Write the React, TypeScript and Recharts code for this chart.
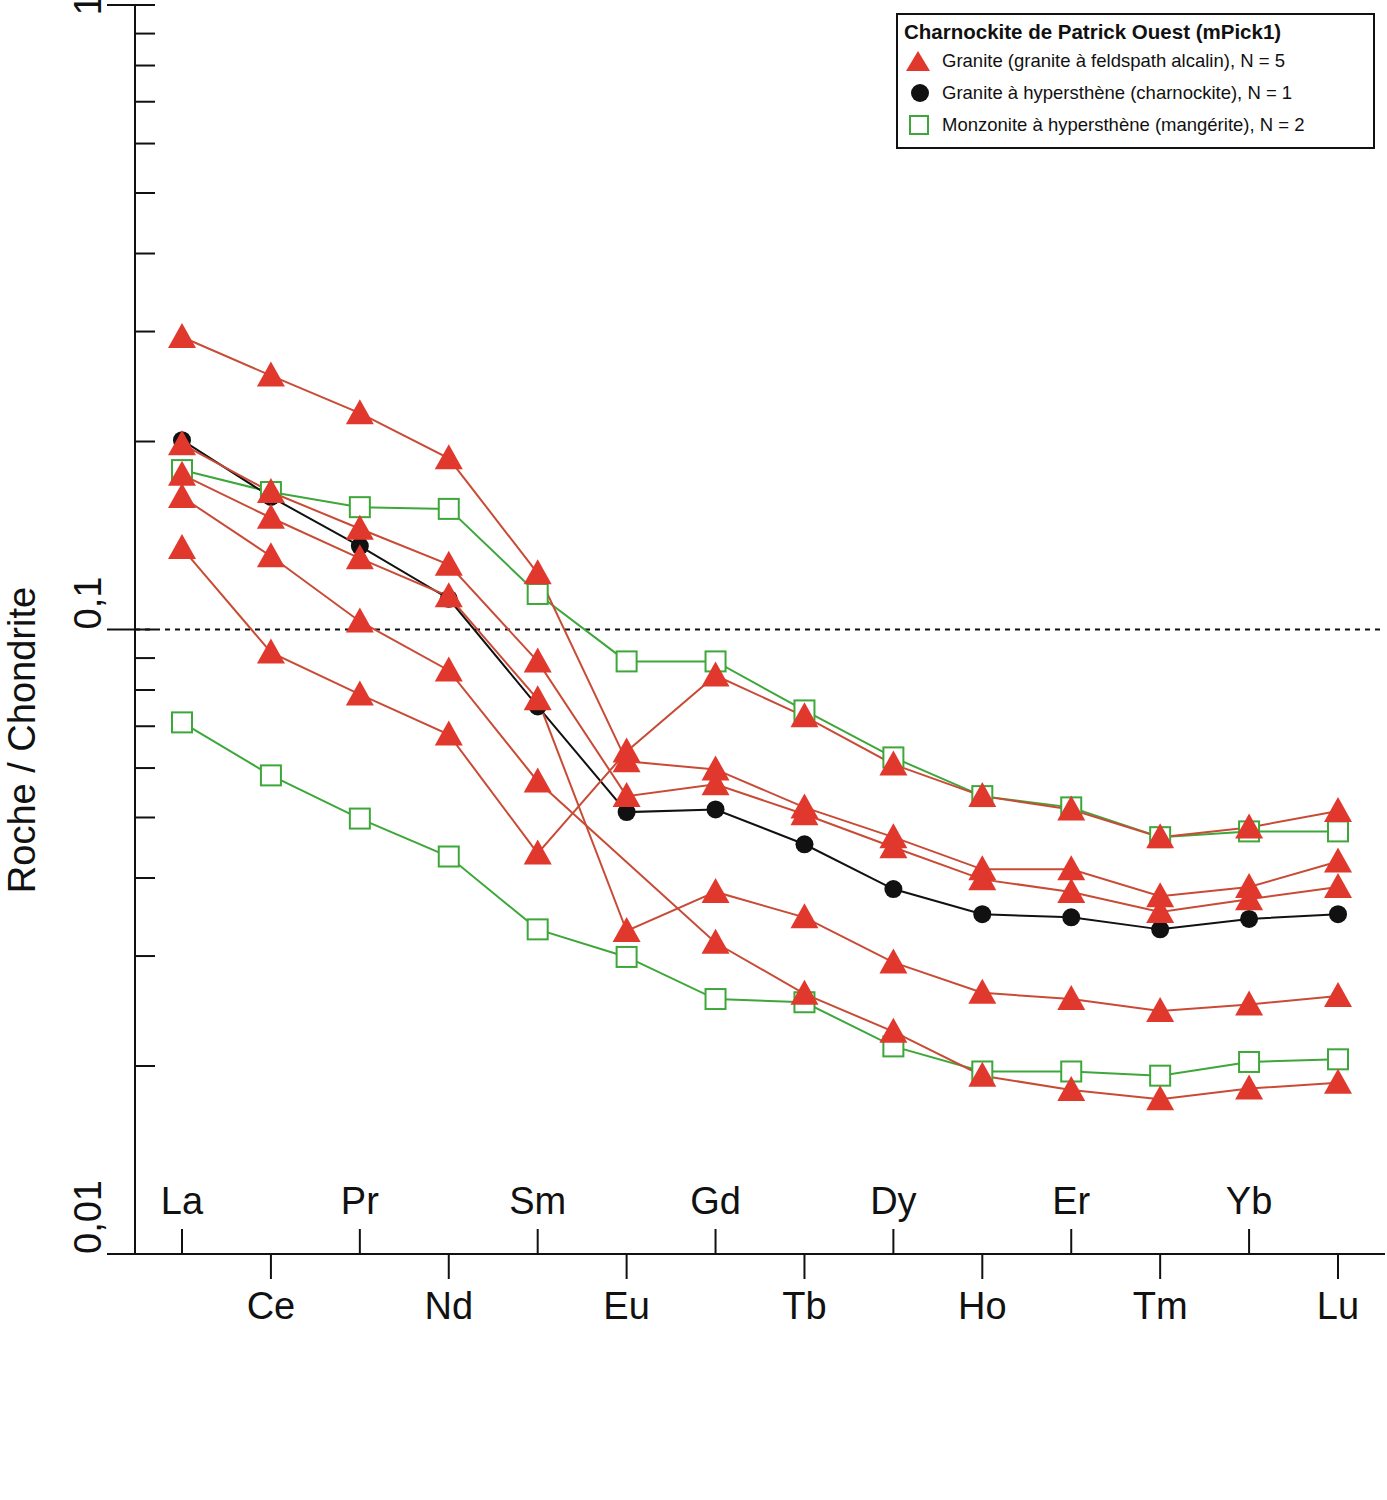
import React from 'react';
import { LineChart, Line, XAxis, YAxis, ReferenceLine } from 'recharts';

const elements = ['La', 'Ce', 'Pr', 'Nd', 'Sm', 'Eu', 'Gd', 'Tb', 'Dy', 'Ho', 'Er', 'Tm', 'Yb', 'Lu'];

// granites (granite à feldspath alcalin)
const granite1 = [0.294, 0.255, 0.222, 0.188, 0.123, 0.0615, 0.0597, 0.0519, 0.0465, 0.0413, 0.0413, 0.0374, 0.0387, 0.0425];
const granite2 = [0.198, 0.166, 0.145, 0.127, 0.0889, 0.0541, 0.0565, 0.0506, 0.0448, 0.0398, 0.038, 0.0353, 0.037, 0.0387];
const granite3 = [0.177, 0.151, 0.130, 0.113, 0.0773, 0.0329, 0.038, 0.0346, 0.0293, 0.0262, 0.0256, 0.0245, 0.0251, 0.0259];
const granite4 = [0.163, 0.131, 0.103, 0.086, 0.0571, null, 0.0315, 0.0261, 0.0227, 0.0193, 0.0183, 0.0177, 0.0184, 0.0188];
const granite5 = [0.135, 0.0919, 0.0787, 0.0679, 0.0438, 0.0638, 0.0844, 0.0726, 0.0608, 0.0541, 0.0515, 0.0465, 0.0482, 0.0512];
// charnockite
const charnockite = [0.201, 0.163, 0.136, 0.112, 0.0753, 0.051, 0.0515, 0.0453, 0.0384, 0.035, 0.0346, 0.0331, 0.0344, 0.035];
// mangérites
const mangerite1 = [0.180, 0.166, 0.157, 0.156, 0.114, 0.0889, 0.0889, 0.0742, 0.0624, 0.0541, 0.0519, 0.0465, 0.0475, 0.0475];
const mangerite2 = [0.071, 0.0584, 0.0498, 0.0433, 0.0331, 0.0299, 0.0256, 0.0253, 0.0215, 0.0196, 0.0196, 0.0193, 0.0203, 0.0205];

const yTicks = [0.01, 0.02, 0.03, 0.04, 0.05, 0.06, 0.07, 0.08, 0.09, 0.1, 0.2, 0.3, 0.4, 0.5, 0.6, 0.7, 0.8, 0.9, 1];
const yMajor: Record<string, string> = { '0.01': '0,01', '0.1': '0,1', '1': '1' };

const data = elements.map((el, i) => ({
  el,
  g1: granite1[i], g2: granite2[i], g3: granite3[i], g4: granite4[i], g5: granite5[i],
  ch: charnockite[i], m1: mangerite1[i], m2: mangerite2[i],
}));

const RED = '#e1382d';
const RED_LINE = '#c94b36';
const GREEN = '#3da73a';

const Triangle = (props: any) => {
  const { cx, cy, index } = props;
  if (cx == null || cy == null || props.value == null) return <g key={index} />;
  return <polygon key={index} points={`${cx},${cy - 14} ${cx - 14},${cy + 11} ${cx + 14},${cy + 11}`} fill={RED} />;
};
const Circle = (props: any) => {
  const { cx, cy, index } = props;
  return <circle key={index} cx={cx} cy={cy} r={9} fill="#111" />;
};
const Square = (props: any) => {
  const { cx, cy, index } = props;
  return <rect key={index} x={cx - 10} y={cy - 10} width={20} height={20} fill="#fff" stroke={GREEN} strokeWidth={2} />;
};

const XTick = (props: any) => {
  const { x, y, index, payload } = props;
  const up = index % 2 === 0;
  return (
    <g>
      <line x1={x} x2={x} y1={y} y2={up ? y - 25 : y + 25} stroke="#111" strokeWidth={2} />
      <text x={x} y={up ? y - 40 : y + 65} textAnchor="middle" fontSize={38} fontFamily="Liberation Sans, Arial" fill="#111">
        {payload.value}
      </text>
    </g>
  );
};

const YTick = (props: any) => {
  const { x, y, payload } = props;
  const label = yMajor[String(payload.value)];
  return (
    <g>
      <line x1={label ? x - 28 : x} x2={x + 20} y1={y} y2={y} stroke="#111" strokeWidth={2} />
      {label && (
        <text x={x - 34} y={y} textAnchor={label === '1' ? 'middle' : 'start'} fontSize={38} fontFamily="Liberation Sans, Arial" fill="#111"
          transform={`rotate(-90 ${x - 34} ${y})`}>
          {label}
        </text>
      )}
    </g>
  );
};

const App: React.FC = () => {
  const lineProps = { type: 'linear' as const, isAnimationActive: false, strokeWidth: 2, connectNulls: true, activeDot: false as const };
  return (
    <div style={{ position: 'absolute', left: 0, top: 0, width: 1387, height: 1500, background: '#fff', fontFamily: 'Liberation Sans, Arial' }}>
      <LineChart width={1387} height={1500} data={data} margin={{ top: 5, left: 134, right: 2, bottom: 245 }}>
        <XAxis dataKey="el" padding={{ left: 47, right: 47 }} tick={<XTick />} tickLine={false} tickSize={0} tickMargin={0}
          axisLine={{ stroke: '#111', strokeWidth: 2 }} interval={0} height={1} />
        <YAxis scale="log" domain={[0.01, 1]} ticks={yTicks} allowDataOverflow width={1} tick={<YTick />} tickLine={false}
          tickSize={0} tickMargin={0} axisLine={{ stroke: '#111', strokeWidth: 2 }} interval={0} />
        <ReferenceLine y={0.1} stroke="#111" strokeWidth={2} strokeDasharray="5 5" />
        <Line dataKey="m1" stroke={GREEN} dot={<Square />} {...lineProps} />
        <Line dataKey="m2" stroke={GREEN} dot={<Square />} {...lineProps} />
        <Line dataKey="ch" stroke="#111" dot={<Circle />} {...lineProps} />
        <Line dataKey="g1" stroke={RED_LINE} dot={<Triangle />} {...lineProps} />
        <Line dataKey="g2" stroke={RED_LINE} dot={<Triangle />} {...lineProps} />
        <Line dataKey="g3" stroke={RED_LINE} dot={<Triangle />} {...lineProps} />
        <Line dataKey="g4" stroke={RED_LINE} dot={<Triangle />} {...lineProps} />
        <Line dataKey="g5" stroke={RED_LINE} dot={<Triangle />} {...lineProps} />
      </LineChart>
      {/* y label */}
      <div style={{ position: 'absolute', left: 22, top: 740, transform: 'translate(-50%,-50%) rotate(-90deg)', whiteSpace: 'nowrap', fontSize: 38, color: '#111' }}>
        Roche / Chondrite
      </div>
      {/* legend */}
      <div style={{ position: 'absolute', left: 896, top: 13, width: 475, height: 132, border: '2px solid #111', background: '#fff', fontSize: 18.5, color: '#111' }}>
        <div style={{ fontWeight: 'bold', fontSize: 20.5, margin: '5px 0 0 6px' }}>Charnockite de Patrick Ouest (mPick1)</div>
        <div style={{ display: 'flex', alignItems: 'center', marginTop: 5 }}>
          <svg width={44} height={24}><polygon points="20,2 8,22 32,22" fill={RED} /></svg>Granite (granite à feldspath alcalin), N = 5
        </div>
        <div style={{ display: 'flex', alignItems: 'center', marginTop: 8 }}>
          <svg width={44} height={24}><circle cx={22} cy={12} r={9} fill="#111" /></svg>Granite à hypersthène (charnockite), N = 1
        </div>
        <div style={{ display: 'flex', alignItems: 'center', marginTop: 8 }}>
          <svg width={44} height={24}><rect x={12} y={3} width={18} height={18} fill="#fff" stroke={GREEN} strokeWidth={2} /></svg>Monzonite à hypersthène (mangérite), N = 2
        </div>
      </div>
    </div>
  );
};

export default App;
